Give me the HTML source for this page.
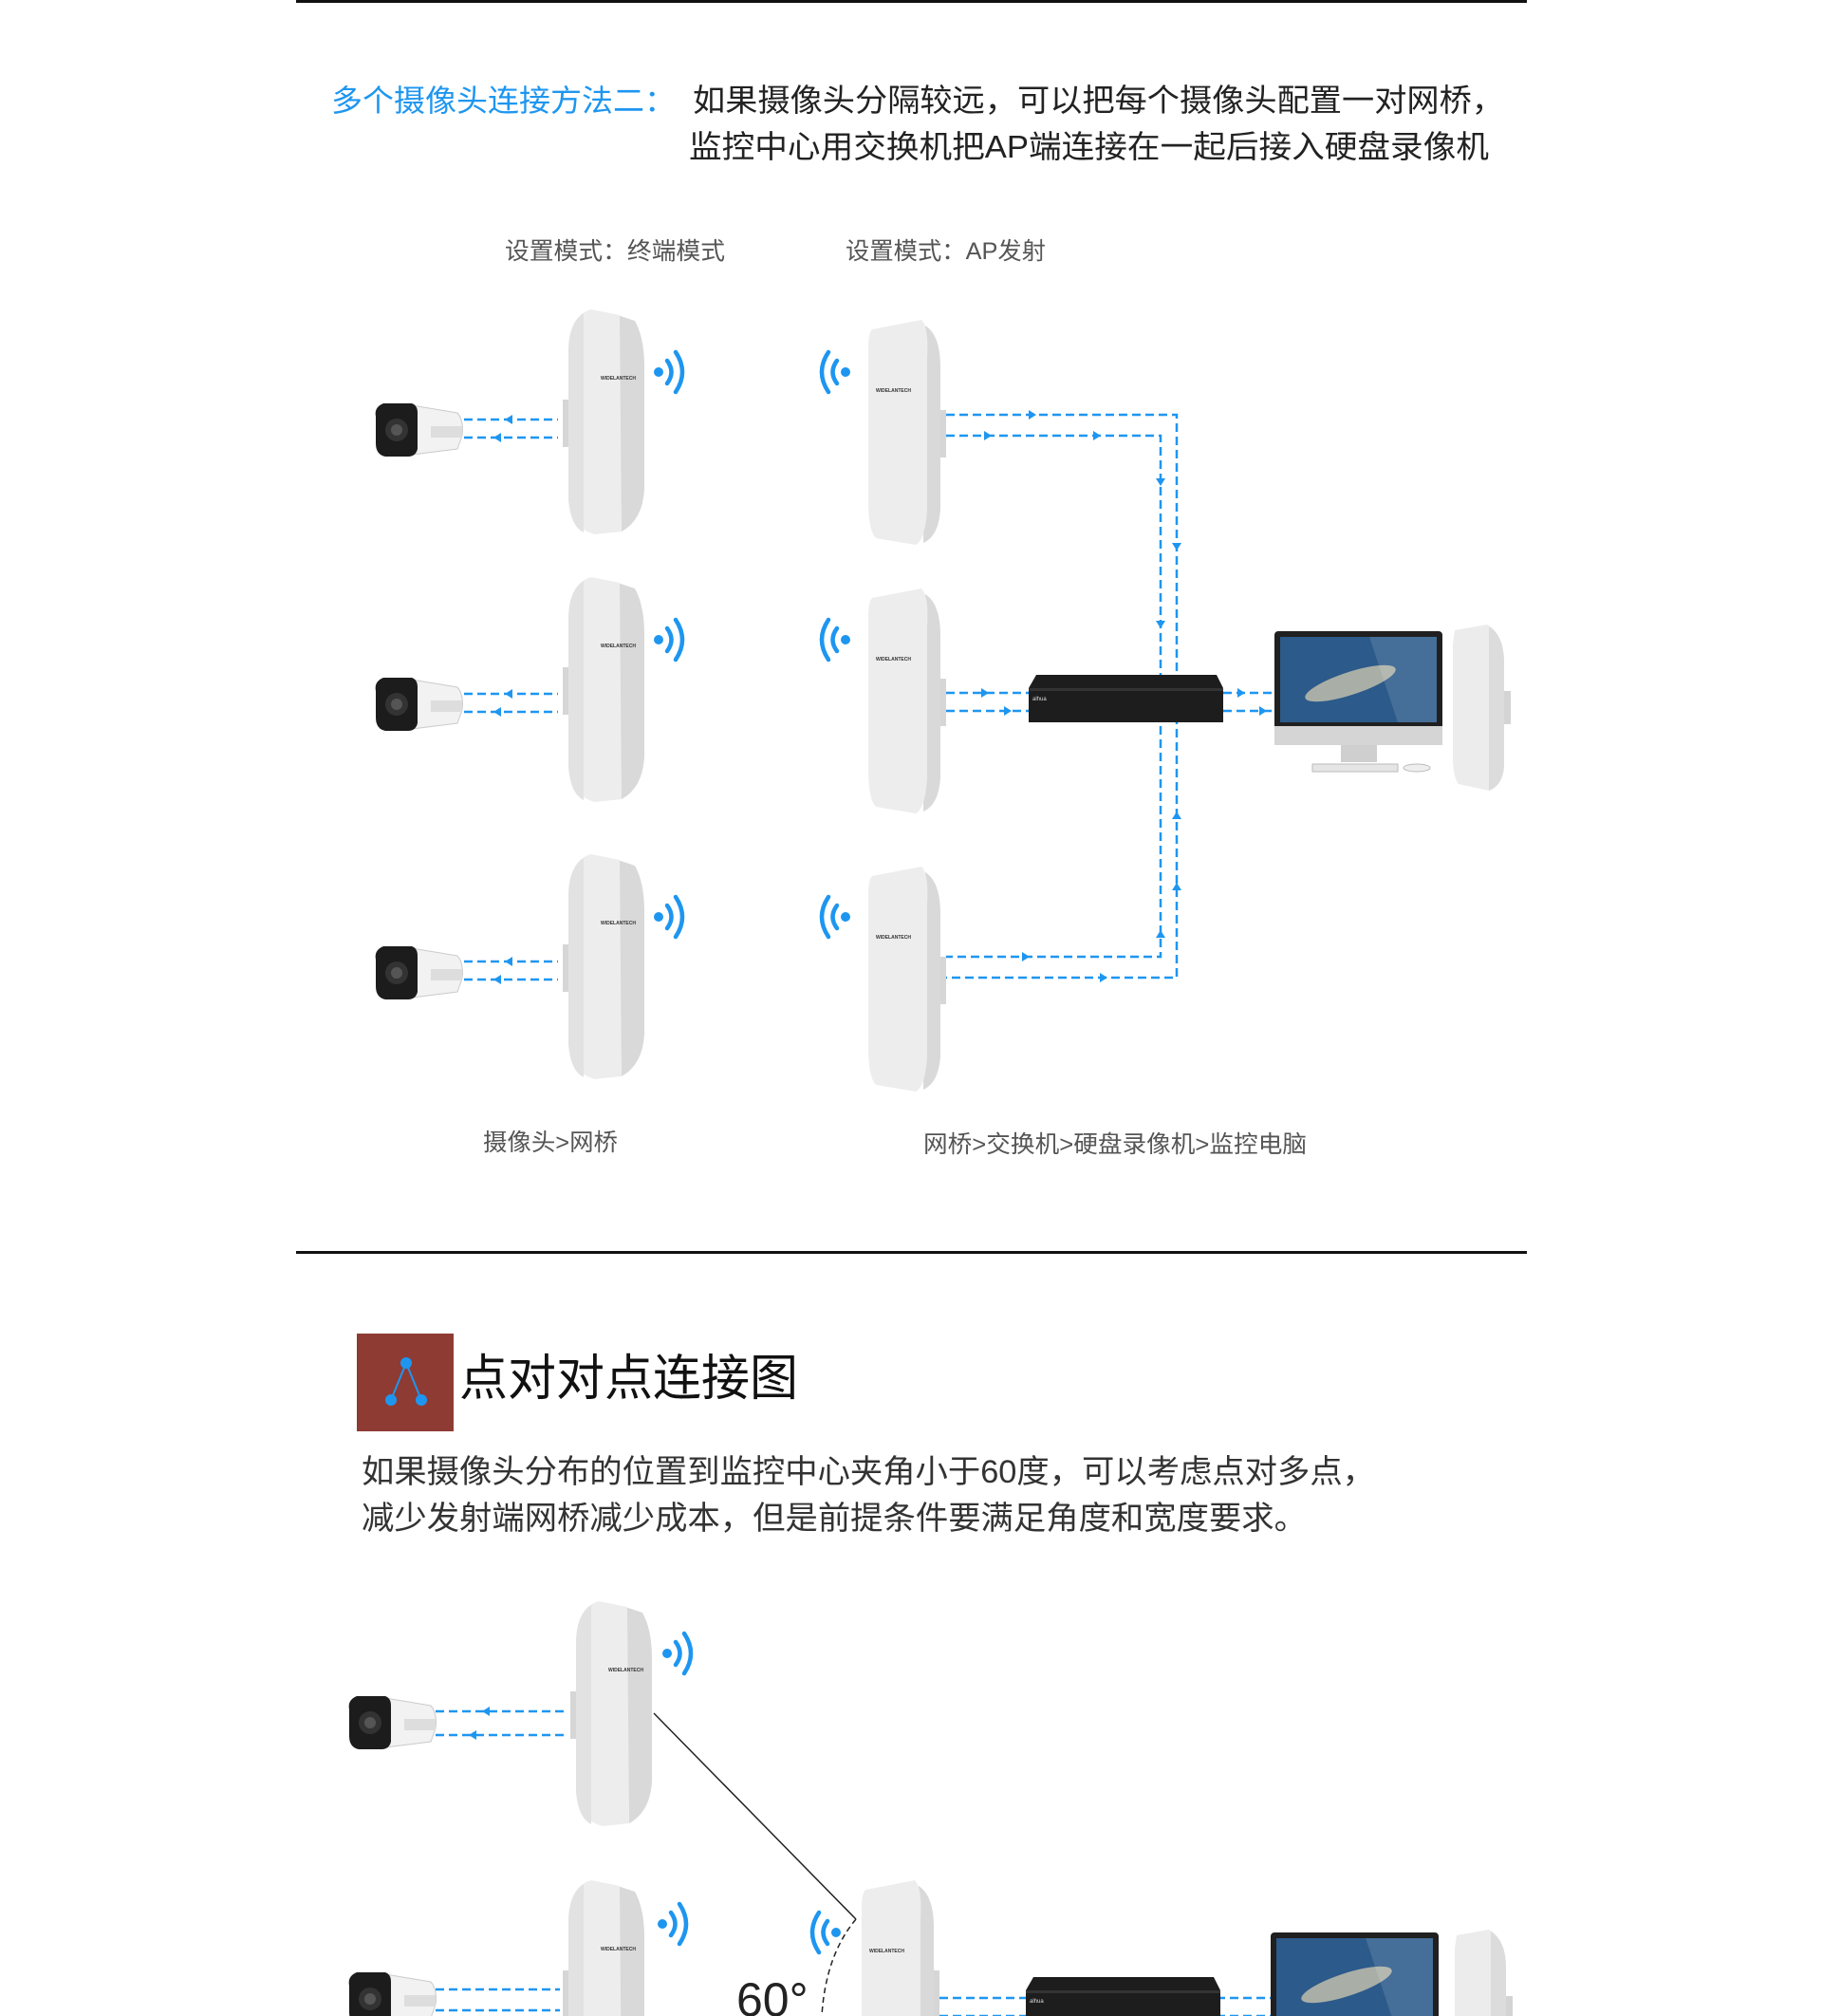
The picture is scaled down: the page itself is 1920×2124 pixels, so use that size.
<!DOCTYPE html>
<html><head><meta charset="utf-8"><style>
html,body{margin:0;padding:0;background:#fff;}
svg{display:block;}
text{font-family:"Liberation Sans","Noto Sans CJK SC",sans-serif;}
</style></head><body>
<svg width="1920" height="2124" viewBox="0 0 1920 2124" xmlns="http://www.w3.org/2000/svg">
<defs>
  <symbol id="brL" viewBox="0 0 86 237" width="86" height="237">
    <rect x="0" y="95" width="8" height="50" fill="#d6d6d6"/>
    <path d="M58,6 L76,12 Q86,30 86,60 L86,190 Q84,222 62,234 Z" fill="#d9d9d9"/>
    <path d="M30,0 L60,6 L62,234 L34,237 Q8,230 6,200 L6,40 Q8,6 30,0 Z" fill="#ededed"/>
    <path d="M22,4 Q6,14 6,45 L6,200 Q8,228 22,235 Z" fill="#e2e2e2"/>
    <text x="40" y="74" font-size="5" fill="#333" font-weight="bold">WIDELANTECH</text>
  </symbol>
  <symbol id="brR" viewBox="0 0 86 237" width="86" height="237">
    <rect x="78" y="95" width="8" height="50" fill="#d6d6d6"/>
    <path d="M64,6 Q80,16 80,50 L80,200 Q78,228 62,235 Z" fill="#d9d9d9"/>
    <path d="M8,10 L60,0 Q68,8 66,40 L66,200 Q64,232 54,237 L12,230 Q4,222 4,190 L4,30 Q4,14 8,10 Z" fill="#ededed"/>
    <text x="12" y="76" font-size="5" fill="#333" font-weight="bold">WIDELANTECH</text>
  </symbol>
  <symbol id="cam" viewBox="0 0 95 59" width="95" height="59">
    <path d="M40,4 L88,12 Q95,20 93,36 L88,50 L40,56 Z" fill="#f2f2f2" stroke="#ccc"/>
    <rect x="60" y="26" width="33" height="12" fill="#ddd"/>
    <path d="M10,2 L40,2 Q46,4 46,12 L46,50 Q44,58 36,58 L12,58 Q2,56 2,44 L2,16 Q0,6 10,2 Z" fill="#1c1c1c"/>
    <circle cx="24" cy="30" r="12" fill="#333"/>
    <circle cx="24" cy="30" r="6" fill="#555"/>
  </symbol>
  <symbol id="wifiR" viewBox="0 0 42 52" width="42" height="52">
    <circle cx="6" cy="26" r="5" fill="#1e96f0"/>
    <path d="M15,14 Q24,26 15,38" fill="none" stroke="#1e96f0" stroke-width="4.5" stroke-linecap="round"/>
    <path d="M24,5 Q38,26 24,47" fill="none" stroke="#1e96f0" stroke-width="4.5" stroke-linecap="round"/>
  </symbol>
  <symbol id="wifiL" viewBox="0 0 42 52" width="42" height="52">
    <circle cx="36" cy="26" r="5" fill="#1e96f0"/>
    <path d="M27,14 Q18,26 27,38" fill="none" stroke="#1e96f0" stroke-width="4.5" stroke-linecap="round"/>
    <path d="M18,5 Q4,26 18,47" fill="none" stroke="#1e96f0" stroke-width="4.5" stroke-linecap="round"/>
  </symbol>
  <symbol id="sw" viewBox="0 0 205 50" width="205" height="50">
    <path d="M8,0 L198,0 L205,14 L205,50 L0,50 L0,14 Z" fill="#1d1d1d"/>
    <rect x="0" y="14" width="205" height="3" fill="#333"/>
    <text x="4" y="27" font-size="6" fill="#ddd">alhua</text>
  </symbol>
  <symbol id="mon" viewBox="0 0 177 152" width="177" height="152">
    <rect x="0" y="0" width="177" height="118" rx="4" fill="#202020"/>
    <rect x="0" y="100" width="177" height="20" fill="#d5d5d5"/>
    <rect x="6" y="6" width="165" height="90" fill="#2c5a8a"/>
    <ellipse cx="80" cy="55" rx="50" ry="12" fill="#c9c4ae" transform="rotate(-18 80 55)" opacity="0.8"/>
    <path d="M100,6 L171,6 L171,96 L130,96 Z" fill="#fff" opacity="0.12"/>
    <rect x="70" y="120" width="38" height="18" fill="#cfcfcf"/>
    <rect x="40" y="140" width="90" height="8" fill="#e5e5e5" stroke="#bbb"/>
    <ellipse cx="150" cy="144" rx="14" ry="4" fill="#eee" stroke="#bbb"/>
  </symbol>
  <symbol id="tower" viewBox="0 0 63 175" width="63" height="175">
    <rect x="56" y="70" width="7" height="35" fill="#d4d4d4"/>
    <path d="M4,6 L38,0 Q56,10 56,40 L56,150 Q54,170 40,175 L8,168 Q2,160 2,140 L2,20 Z" fill="#ececec"/>
    <path d="M40,2 Q56,12 56,40 L56,150 Q54,170 40,175 Z" fill="#dcdcdc"/>
  </symbol>
</defs>

<rect x="312" y="0" width="1297" height="3" fill="#111"/>
<text x="349" y="117" font-size="32" fill="#1e96f0" textLength="363" lengthAdjust="spacingAndGlyphs">多个摄像头连接方法二：</text>
<text x="730" y="117" font-size="33" fill="#222" textLength="855" lengthAdjust="spacingAndGlyphs">如果摄像头分隔较远，可以把每个摄像头配置一对网桥，</text>
<text x="726" y="166" font-size="33" fill="#222" textLength="843" lengthAdjust="spacingAndGlyphs">监控中心用交换机把AP端连接在一起后接入硬盘录像机</text>

<text x="532" y="273" font-size="25" fill="#555" textLength="232" lengthAdjust="spacingAndGlyphs">设置模式：终端模式</text>
<text x="891" y="273" font-size="25" fill="#555" textLength="211" lengthAdjust="spacingAndGlyphs">设置模式：AP发射</text>

<g stroke="#1e96f0" stroke-width="2.5" stroke-dasharray="9,5" fill="none">
  <path d="M489,442 H588 M489,461 H588"/>
  <path d="M489,731 H588 M489,750 H588"/>
  <path d="M489,1013 H588 M489,1032 H588"/>
  <path d="M997,437 H1240 V1030 H997"/>
  <path d="M997,459 H1223 V1008 H997"/>
  <path d="M997,730 H1084 M997,749 H1084"/>
  <path d="M1289,730 H1343 M1289,749 H1343"/>
  <path d="M459,1803 H598 M459,1828 H598"/>
  <path d="M459,2096 H590 M459,2118 H590"/>
  <path d="M990,2105 H1081 M990,2124 H1081"/>
  <path d="M1282,2105 H1339 M1282,2124 H1339"/>
</g>
<g fill="#1e96f0">
  <path d="M532,442 l8,-5 v10z"/><path d="M520,461 l8,-5 v10z"/>
  <path d="M532,731 l8,-5 v10z"/><path d="M520,750 l8,-5 v10z"/>
  <path d="M532,1013 l8,-5 v10z"/><path d="M520,1032 l8,-5 v10z"/>
  <path d="M1092,437 l-8,-5 v10z"/><path d="M1045,459 l-8,-5 v10z"/><path d="M1160,459 l-8,-5 v10z"/>
  <path d="M1240,580 l-5,-8 h10z"/><path d="M1223,512 l-5,-8 h10z"/><path d="M1223,662 l-5,-8 h10z"/>
  <path d="M1240,855 l-5,8 h10z"/><path d="M1240,930 l-5,8 h10z"/><path d="M1223,980 l-5,8 h10z"/>
  <path d="M1085,1008 l-8,-5 v10z"/><path d="M1167,1030 l-8,-5 v10z"/>
  <path d="M1042,730 l-8,-5 v10z"/><path d="M1066,749 l-8,-5 v10z"/>
  <path d="M1312,730 l-8,-5 v10z"/><path d="M1335,749 l-8,-5 v10z"/>
  <path d="M508,1803 l8,-5 v10z"/><path d="M494,1828 l8,-5 v10z"/>
</g>

<use href="#brL" x="593" y="326"/>
<use href="#brL" x="593" y="608"/>
<use href="#brL" x="593" y="900"/>
<use href="#brR" x="911" y="337"/>
<use href="#brR" x="911" y="620"/>
<use href="#brR" x="911" y="913"/>
<use href="#cam" x="394" y="423"/>
<use href="#cam" x="394" y="712"/>
<use href="#cam" x="394" y="995"/>
<use href="#wifiR" x="688" y="366"/>
<use href="#wifiR" x="688" y="648"/>
<use href="#wifiR" x="688" y="940"/>
<use href="#wifiL" x="855" y="366"/>
<use href="#wifiL" x="855" y="648"/>
<use href="#wifiL" x="855" y="940"/>
<use href="#sw" x="1084" y="711"/>
<use href="#mon" x="1343" y="665"/>
<use href="#tower" x="1529" y="658"/>

<text x="509" y="1212" font-size="25" fill="#555" textLength="142" lengthAdjust="spacingAndGlyphs">摄像头&gt;网桥</text>
<text x="973" y="1214" font-size="25" fill="#555" textLength="404" lengthAdjust="spacingAndGlyphs">网桥&gt;交换机&gt;硬盘录像机&gt;监控电脑</text>

<rect x="312" y="1318" width="1297" height="3" fill="#111"/>

<rect x="376" y="1405" width="102" height="103" fill="#8e3b33"/>
<path d="M428,1436 L412,1475 M428,1436 L444,1475" stroke="#1e96f0" stroke-width="2"/>
<circle cx="428" cy="1436" r="6" fill="#1e96f0"/>
<circle cx="412" cy="1475" r="6" fill="#1e96f0"/>
<circle cx="444" cy="1475" r="6" fill="#1e96f0"/>
<text x="484" y="1470" font-size="52" fill="#111" textLength="357" lengthAdjust="spacingAndGlyphs">点对对点连接图</text>
<text x="381" y="1562" font-size="34" fill="#333" textLength="1068" lengthAdjust="spacingAndGlyphs">如果摄像头分布的位置到监控中心夹角小于60度，可以考虑点对多点，</text>
<text x="381" y="1611" font-size="34" fill="#333" textLength="996" lengthAdjust="spacingAndGlyphs">减少发射端网桥减少成本，但是前提条件要满足角度和宽度要求。</text>

<path d="M689,1805 L902,2022" stroke="#222" stroke-width="1.5"/>
<path d="M902,2022 Q870,2060 866,2124" stroke="#222" stroke-width="1.5" stroke-dasharray="6,4" fill="none"/>
<use href="#brL" x="601" y="1687"/>
<use href="#brL" x="593" y="1981"/>
<use href="#brR" x="904" y="1981"/>
<use href="#cam" x="366" y="1785"/>
<use href="#cam" x="366" y="2076"/>
<use href="#wifiR" x="697" y="1716"/>
<use href="#wifiR" x="692" y="2001"/>
<use href="#wifiL" x="845" y="2010"/>
<text x="776" y="2124" font-size="50" fill="#222">60°</text>
<use href="#sw" x="1081" y="2083"/>
<use href="#mon" x="1339" y="2036"/>
<use href="#tower" x="1531" y="2033"/>
</svg>
</body></html>
